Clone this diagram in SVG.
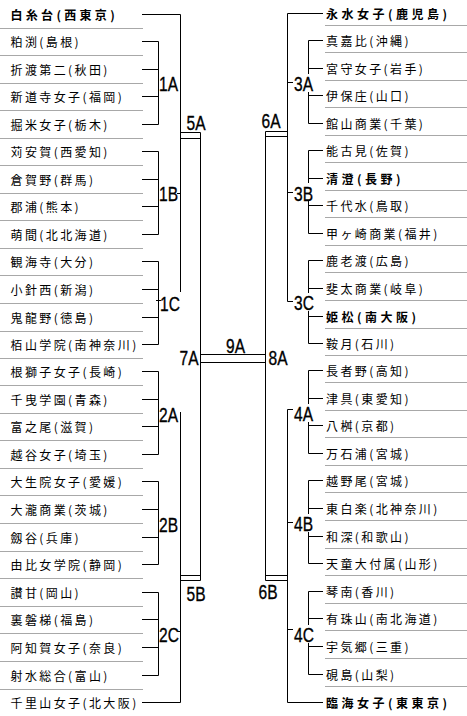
<svg xmlns="http://www.w3.org/2000/svg" width="467" height="716" viewBox="0 0 467 716">
<style>
.t{font-family:"Noto Sans CJK JP","Noto Sans CJK SC",sans-serif;font-size:12px;letter-spacing:2.4px;fill:#000}
.b{font-weight:bold;letter-spacing:3.5px}
.lb{font-family:"Liberation Sans",Arial,sans-serif;font-size:21px;fill:#000;stroke:#000;stroke-width:0.35}
.sep{stroke:#a8a8a8;stroke-width:1;fill:none}
.ln{stroke:#000;stroke-width:1;fill:none}
</style>
<rect width="467" height="716" fill="#fff"/>
<g id="rules">
<path class="sep" d="M0 28.5H143M0 55.5H143M0 83.5H143M0 110.5H143M0 138.5H143M0 165.5H143M0 193.5H143M0 220.5H143M0 248.5H143M0 275.5H143M0 303.5H143M0 331.5H143M0 358.5H143M0 385.5H143M0 413.5H143M0 440.5H143M0 468.5H143M0 495.5H143M0 523.5H143M0 551.5H143M0 578.5H143M0 606.5H143M0 633.5H143M0 661.5H143M0 689.5H143"/>
<path class="sep" d="M325 25.5H467M325 52.5H467M325 80.5H467M325 107.5H467M325 135.5H467M325 162.5H467M325 190.5H467M325 217.5H467M325 245.5H467M325 272.5H467M325 300.5H467M325 328.5H467M325 355.5H467M325 382.5H467M325 410.5H467M325 437.5H467M325 465.5H467M325 492.5H467M325 520.5H467M325 548.5H467M325 575.5H467M325 603.5H467M325 630.5H467M325 658.5H467M325 686.5H467"/>
</g>
<g id="connectors">
<path class="ln" d="M142 14.5H180.5V292"/>
<path class="ln" d="M142 41.5H158.5V124.5H142M142 69.5H158.5M142 96.5H158.5"/>
<path class="ln" d="M142 151.5H158.5V234.5H142M142 179.5H158.5M142 206.5H158.5"/>
<path class="ln" d="M142 261.5H158.5V344.5H142M142 289.5H158.5M142 317.5H158.5"/>
<path class="ln" d="M142 371.5H158.5V454.5H142M142 399.5H158.5M142 426.5H158.5"/>
<path class="ln" d="M142 481.5H158.5V564.5H142M142 509.5H158.5M142 537.5H158.5"/>
<path class="ln" d="M142 592.5H158.5V675.5H142M142 619.5H158.5M142 647.5H158.5"/>
<path class="ln" d="M177 193.5H180.5M156 300.5H161M177.5 631.5H180.5"/>
<path class="ln" d="M180.5 412V702.5H142"/>
<path class="ln" d="M180.5 132.5H200.5M180.5 138.5H200.5M200.5 132.5V580.5M180.5 575.5H200.5M180.5 580.5H200.5M180.5 575.5V580.5"/>
<path class="ln" d="M200.5 354.5H265.5M200.5 362.5H265.5"/>
<path class="ln" d="M323 13.5H287.5V301.5H293"/>
<path class="ln" d="M287.5 82.5H293M287.5 192.5H293"/>
<path class="ln" d="M323 40.5H308.5V74M308.5 92V123.5H323M308.5 68.5H323M308.5 95.5H323"/>
<path class="ln" d="M323 150.5H308.5V183M308.5 201V233.5H323M308.5 178.5H323M308.5 205.5H323"/>
<path class="ln" d="M323 260.5H308.5V293M308.5 311V343.5H323M308.5 288.5H323M308.5 316.5H323"/>
<path class="ln" d="M293 409.5H287.5V702.5H323M287.5 522.5H293M287.5 629.5H293"/>
<path class="ln" d="M323 370.5H308.5V404M308.5 422V453.5H323M308.5 398.5H323M308.5 425.5H323"/>
<path class="ln" d="M323 480.5H308.5V514M308.5 532V563.5H323M308.5 508.5H323M308.5 536.5H323"/>
<path class="ln" d="M323 591.5H308.5V625M308.5 643V674.5H323M308.5 618.5H323M308.5 646.5H323"/>
<path class="ln" d="M265.5 131.5H287.5M265.5 136.5H287.5M265.5 131.5V580.5M265.5 575.5H287.5M265.5 580.5H287.5"/>
</g>
<g id="L00"><text class="t b" x="10.5" y="19.5" style="letter-spacing:3.3px">白糸台(西東京)</text></g>
<g id="L01"><text class="t" x="10.5" y="46.5">粕渕(島根)</text></g>
<g id="L02"><text class="t" x="10.5" y="74.5">折渡第二(秋田)</text></g>
<g id="L03"><text class="t" x="10.5" y="101.5">新道寺女子(福岡)</text></g>
<g id="L04"><text class="t" x="10.5" y="129.5">掘米女子(栃木)</text></g>
<g id="L05"><text class="t" x="10.5" y="156.5">苅安賀(西愛知)</text></g>
<g id="L06"><text class="t" x="10.5" y="184.5">倉賀野(群馬)</text></g>
<g id="L07"><text class="t" x="10.5" y="211.5">郡浦(熊本)</text></g>
<g id="L08"><text class="t" x="10.5" y="239.5">萌間(北北海道)</text></g>
<g id="L09"><text class="t" x="10.5" y="266.5">観海寺(大分)</text></g>
<g id="L10"><text class="t" x="10.5" y="294.5">小針西(新潟)</text></g>
<g id="L11"><text class="t" x="10.5" y="322.5">鬼龍野(徳島)</text></g>
<g id="L12"><text class="t" x="10.5" y="349.5">栢山学院(南神奈川)</text></g>
<g id="L13"><text class="t" x="10.5" y="376.5">根獅子女子(長崎)</text></g>
<g id="L14"><text class="t" x="10.5" y="404.5">千曳学園(青森)</text></g>
<g id="L15"><text class="t" x="10.5" y="431.5">富之尾(滋賀)</text></g>
<g id="L16"><text class="t" x="10.5" y="459.5">越谷女子(埼玉)</text></g>
<g id="L17"><text class="t" x="10.5" y="486.5">大生院女子(愛媛)</text></g>
<g id="L18"><text class="t" x="10.5" y="514.5">大瀧商業(茨城)</text></g>
<g id="L19"><text class="t" x="10.5" y="542.5">劔谷(兵庫)</text></g>
<g id="L20"><text class="t" x="10.5" y="569.5">由比女学院(静岡)</text></g>
<g id="L21"><text class="t" x="10.5" y="597.5">讃甘(岡山)</text></g>
<g id="L22"><text class="t" x="10.5" y="624.5">裏磐梯(福島)</text></g>
<g id="L23"><text class="t" x="10.5" y="652.5">阿知賀女子(奈良)</text></g>
<g id="L24"><text class="t" x="10.5" y="680.5">射水総合(富山)</text></g>
<g id="L25"><text class="t" x="10.5" y="707.5">千里山女子(北大阪)</text></g>
<g id="R00"><text class="t b" x="326" y="18.5">永水女子(鹿児島)</text></g>
<g id="R01"><text class="t" x="326" y="45.5">真嘉比(沖縄)</text></g>
<g id="R02"><text class="t" x="326" y="73.5">宮守女子(岩手)</text></g>
<g id="R03"><text class="t" x="326" y="100.5">伊保庄(山口)</text></g>
<g id="R04"><text class="t" x="326" y="128.5">館山商業(千葉)</text></g>
<g id="R05"><text class="t" x="326" y="155.5">能古見(佐賀)</text></g>
<g id="R06"><text class="t b" x="326" y="183.5">清澄(長野)</text></g>
<g id="R07"><text class="t" x="326" y="210.5">千代水(鳥取)</text></g>
<g id="R08"><text class="t" x="326" y="238.5">甲ヶ崎商業(福井)</text></g>
<g id="R09"><text class="t" x="326" y="265.5">鹿老渡(広島)</text></g>
<g id="R10"><text class="t" x="326" y="293.5">斐太商業(岐阜)</text></g>
<g id="R11"><text class="t b" x="326" y="321.5">姫松(南大阪)</text></g>
<g id="R12"><text class="t" x="326" y="348.5">鞍月(石川)</text></g>
<g id="R13"><text class="t" x="326" y="375.5">長者野(高知)</text></g>
<g id="R14"><text class="t" x="326" y="403.5">津具(東愛知)</text></g>
<g id="R15"><text class="t" x="326" y="430.5">八桝(京都)</text></g>
<g id="R16"><text class="t" x="326" y="458.5">万石浦(宮城)</text></g>
<g id="R17"><text class="t" x="326" y="485.5">越野尾(宮城)</text></g>
<g id="R18"><text class="t" x="326" y="513.5">東白楽(北神奈川)</text></g>
<g id="R19"><text class="t" x="326" y="541.5">和深(和歌山)</text></g>
<g id="R20"><text class="t" x="326" y="568.5">天童大付属(山形)</text></g>
<g id="R21"><text class="t" x="326" y="596.5">琴南(香川)</text></g>
<g id="R22"><text class="t" x="326" y="623.5">有珠山(南北海道)</text></g>
<g id="R23"><text class="t" x="326" y="651.5">宇気郷(三重)</text></g>
<g id="R24"><text class="t" x="326" y="679.5">硯島(山梨)</text></g>
<g id="R25"><text class="t b" x="326" y="707.5">臨海女子(東東京)</text></g>
<g id="b1A"><text class="lb" transform="translate(159 91) scale(0.74 1)">1A</text></g>
<g id="b1B"><text class="lb" transform="translate(159 200.5) scale(0.74 1)">1B</text></g>
<g id="b1C"><text class="lb" transform="translate(160 310.5) scale(0.74 1)">1C</text></g>
<g id="b2A"><text class="lb" transform="translate(159 421.5) scale(0.74 1)">2A</text></g>
<g id="b2B"><text class="lb" transform="translate(159 531.5) scale(0.74 1)">2B</text></g>
<g id="b2C"><text class="lb" transform="translate(159 641.5) scale(0.74 1)">2C</text></g>
<g id="b5A"><text class="lb" transform="translate(186.5 129.5) scale(0.74 1)">5A</text></g>
<g id="b5B"><text class="lb" transform="translate(186.5 600.5) scale(0.74 1)">5B</text></g>
<g id="b7A"><text class="lb" transform="translate(179.5 365) scale(0.74 1)">7A</text></g>
<g id="b9A"><text class="lb" transform="translate(226 352.5) scale(0.74 1)">9A</text></g>
<g id="b8A"><text class="lb" transform="translate(268.5 365) scale(0.74 1)">8A</text></g>
<g id="b6A"><text class="lb" transform="translate(261.5 127.5) scale(0.74 1)">6A</text></g>
<g id="b6B"><text class="lb" transform="translate(258.5 598.5) scale(0.74 1)">6B</text></g>
<g id="b3A"><text class="lb" transform="translate(294 91) scale(0.74 1)">3A</text></g>
<g id="b3B"><text class="lb" transform="translate(294 200.5) scale(0.74 1)">3B</text></g>
<g id="b3C"><text class="lb" transform="translate(294 309.5) scale(0.74 1)">3C</text></g>
<g id="b4A"><text class="lb" transform="translate(294 420.5) scale(0.74 1)">4A</text></g>
<g id="b4B"><text class="lb" transform="translate(294 530.5) scale(0.74 1)">4B</text></g>
<g id="b4C"><text class="lb" transform="translate(294 641.5) scale(0.74 1)">4C</text></g>
</svg>
